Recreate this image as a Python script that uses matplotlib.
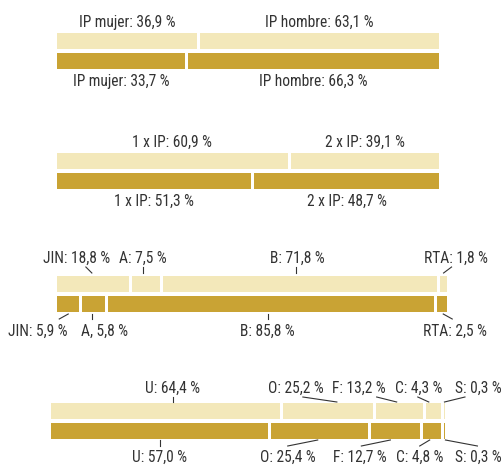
import matplotlib.pyplot as plt

# Datos
cat_sexo = ['IP mujer:', 'IP hombre:']
sexo_arriba = [36.9, 63.1]
sexo_abajo = [33.7, 66.3]

cat_ip = ['1 x IP:', '2 x IP:']
ip_arriba = [60.9, 39.1]
ip_abajo = [51.3, 48.7]

cat_tipo_arriba = ['JIN:', 'A:', 'B:', 'RTA:']
cat_tipo_abajo = ['JIN:', 'A,', 'B:', 'RTA:']
tipo_arriba = [18.8, 7.5, 71.8, 1.8]
tipo_abajo = [5.9, 5.8, 85.8, 2.5]

cat_forma = ['U:', 'O:', 'F:', 'C:', 'S:']
forma_arriba = [64.4, 25.2, 13.2, 4.3, 0.3]
forma_abajo = [57.0, 25.4, 12.7, 4.8, 0.3]

W, H = 502, 466
CLARO = '#F3E8BA'
OSCURO = '#C9A334'
TEXTO = '#333333'
GAP = 3

plt.rcParams['font.family'] = ['Roboto Condensed', 'PT Sans Narrow', 'Asap Condensed',
                               'Archivo Narrow', 'Liberation Sans Narrow', 'Liberation Sans']

fig = plt.figure(figsize=(W / 100, H / 100), dpi=100)


def etiqueta(cat, v):
    return f"{cat} {v:.1f} %".replace('.', ',')


def grupo(x0, x1, y0, filas, base, guias=None):
    # filas: [(cats, vals, color), (cats, vals, color)]
    ax = fig.add_axes([x0 / W, 1 - (y0 + 36) / H, (x1 - x0) / W, 36 / H])
    ax.axis('off')
    n = len(filas[0][1])
    w_px = x1 - x0
    g = GAP / (w_px - (n - 1) * GAP) * 100
    ax.set_xlim(0, 100 + (n - 1) * g)
    ax.set_ylim(1.4, -0.4)
    kx = (100 + (n - 1) * g) / w_px
    ky = 1 / 20
    for r, (cats, vals, color) in enumerate(filas):
        tot = sum(vals)
        anchos = [v / tot * 100 for v in vals]
        lefts = []
        acc = 0
        for i, a in enumerate(anchos):
            lefts.append(acc + i * g)
            acc += a
        ax.barh([r] * n, anchos, left=lefts, height=0.8, color=color)
        borde = -0.4 if r == 0 else 1.4
        d = -1 if r == 0 else 1
        for i in range(n):
            c = lefts[i] + anchos[i] / 2
            dx = 0
            if guias is not None:
                dx, near, far, g0, g1 = guias[r][i]
                ax.plot([c + near * kx, c + far * kx],
                        [borde + d * g0 * ky, borde + d * g1 * ky],
                        color=TEXTO, lw=0.8, clip_on=False)
            ax.text(c + dx * kx, borde + d * base[r] * ky, etiqueta(cats[i], vals[i]),
                    ha='center', va='baseline', fontsize=11.2, color=TEXTO)


grupo(57, 439, 33, [(cat_sexo, sexo_arriba, CLARO), (cat_sexo, sexo_abajo, OSCURO)], (6, 17))
grupo(57, 439, 153, [(cat_ip, ip_arriba, CLARO), (cat_ip, ip_abajo, OSCURO)], (6, 17))

# desplazamientos de etiquetas y guías (px): etiqueta, guía cerca, guía lejos, y0, y1
guias_tipo = [
    [(-16, -1, -7, 3, 9), (-3, -3, -3, 3, 9), (-3, -4, -4, 3, 9), (12, 0, 8, 3, 9)],
    [(-30, 0, -9, 2, 7), (11, -2, -2, 2, 7), (-4, -3, -3, 2, 7), (13, 1, 10, 2, 7)],
]
grupo(57, 447, 276, [(cat_tipo_arriba, tipo_arriba, CLARO), (cat_tipo_abajo, tipo_abajo, OSCURO)],
      (12.7, 24), guias_tipo)

guias_forma = [
    [(7.5, 7.5, 7.5, 1, 6), (-32, 9, -25, 1, 6), (-40.5, -2.5, -22.5, 1, 6),
     (-14.5, -4.5, -15.5, 1, 6), (33.5, 0, 20.5, 1, 6)],
    [(0, 0, 0, 1, 7), (-32, -2, -32, 1, 7), (-35, -5, -34, 1, 7), (-12, -2, -12, 1, 7), (34, 1, 33, 1, 7)],
]
grupo(51, 445, 403, [(cat_forma, forma_arriba, CLARO), (cat_forma, forma_abajo, OSCURO)],
      (10.3, 22.7), guias_forma)

fig.savefig('out.png', dpi=100)
